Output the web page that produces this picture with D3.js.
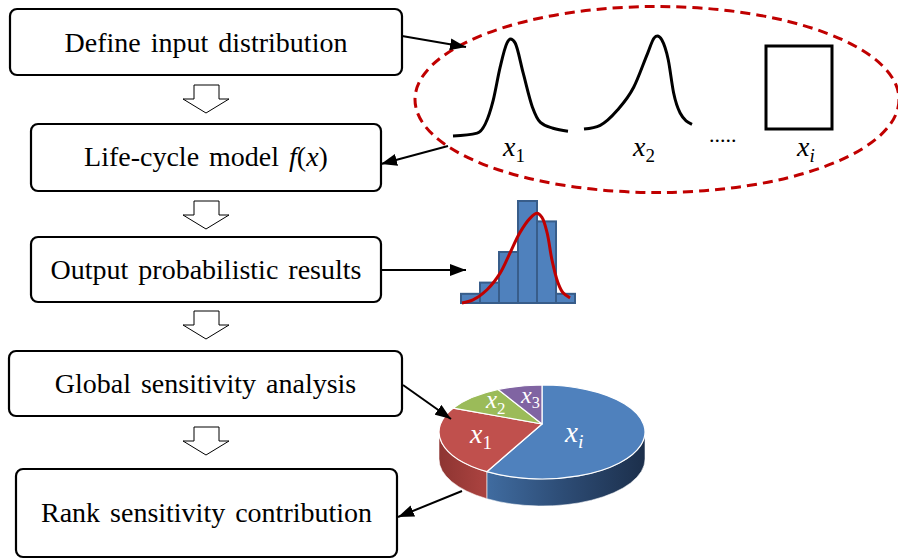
<!DOCTYPE html>
<html>
<head>
<meta charset="utf-8">
<script src="https://cdn.jsdelivr.net/npm/d3@7"></script>
</head>
<body style="margin:0">
<script>
const width = 898;
const height = 559;
const fontName = ["Liberation", "Serif"].join(" ");
const serif = `'${fontName}'`;

// Flow steps (segments: [text, italic])
const stepLabels = [
    [["Define input distribution", false]],
    [["Life-cycle model ", false], ["f", true], ["(", false], ["x", true], [")", false]],
    [["Output probabilistic results", false]],
    [["Global sensitivity analysis", false]],
    [["Rank sensitivity contribution", false]]
];

// Input distributions (x: 0-10, density: 0-1)
const dist1 = [[0, 0], [2.1, 0.03], [3.5, 0.37], [4.1, 0.71], [4.7, 0.96], [5.0, 1.0], [5.4, 0.96],
    [6.1, 0.65], [6.9, 0.30], [7.6, 0.14], [8.7, 0.08], [10, 0.05]];
const dist2 = [[0, 0.02], [1.5, 0.06], [3.1, 0.22], [4.6, 0.46], [5.9, 0.82], [6.5, 0.98], [6.8, 1.0],
    [7.2, 0.96], [7.8, 0.75], [8.3, 0.40], [8.9, 0.19], [10, 0.07]];
const distLabels = ["1", "2", "i"];

// Output histogram (relative counts) and fitted curve
const histCounts = [9, 20, 50, 100, 80, 9];
const histFit = [[0.05, 0], [0.63, 3], [1.37, 13], [2.05, 29], [2.58, 49], [3.1, 69], [3.63, 83],
    [4.0, 88], [4.26, 84], [4.53, 69], [4.79, 42], [5.1, 20], [5.37, 10], [5.74, 5]];

// Sensitivity contributions
const pieNames = ["i", "1", "2", "3"];
const pieValues = [59, 24.5, 9.5, 7];
const pieColors = ["#4f81bd", "#c0504d", "#9bbb59", "#8064a2"];

// layout
const boxes = [
    { x: 10, y: 9, w: 392, h: 66, ty: 52 },
    { x: 31, y: 124, w: 350, h: 67, ty: 166 },
    { x: 31, y: 237, w: 350, h: 65, ty: 279 },
    { x: 9, y: 351, w: 393, h: 65, ty: 393 },
    { x: 16, y: 469, w: 381, h: 88, ty: 522 }
];
const hollowArrows = [85, 201, 311, 427];

const svg = d3.select("body").append("svg").attr("width", width).attr("height", height)
    .style("display", "block");
svg.append("rect").attr("width", width).attr("height", height).attr("fill", "#fff");

const defs = svg.append("defs");
defs.append("marker")
    .attr("id", "head")
    .attr("markerUnits", "userSpaceOnUse")
    .attr("viewBox", "0 0 16 12")
    .attr("refX", 16).attr("refY", 6)
    .attr("markerWidth", 16).attr("markerHeight", 12)
    .attr("orient", "auto")
    .append("path").attr("d", "M0,0 L16,6 L0,12 Z").attr("fill", "#000");

const gBlue = defs.append("linearGradient").attr("id", "blueSide")
    .attr("gradientUnits", "userSpaceOnUse").attr("x1", 482).attr("x2", 645).attr("y1", 0).attr("y2", 0);
gBlue.append("stop").attr("offset", 0).attr("stop-color", "#416ea3");
gBlue.append("stop").attr("offset", 0.5).attr("stop-color", "#2d4c75");
gBlue.append("stop").attr("offset", 1).attr("stop-color", "#1c2f4b");
const gRed = defs.append("linearGradient").attr("id", "redSide")
    .attr("gradientUnits", "userSpaceOnUse").attr("x1", 440).attr("x2", 482).attr("y1", 0).attr("y2", 0);
gRed.append("stop").attr("offset", 0).attr("stop-color", "#8e3532");
gRed.append("stop").attr("offset", 1).attr("stop-color", "#a9423f");

// Step boxes
boxes.forEach((b, i) => {
    svg.append("rect")
        .attr("x", b.x).attr("y", b.y).attr("width", b.w).attr("height", b.h)
        .attr("rx", 7)
        .attr("fill", "#fff").attr("stroke", "#000").attr("stroke-width", 2.2);
    const t = svg.append("text")
        .attr("x", b.x + b.w / 2).attr("y", b.ty)
        .attr("text-anchor", "middle")
        .style("font-family", serif)
        .attr("font-size", 28)
        .attr("word-spacing", 3);
    stepLabels[i].forEach(seg => {
        t.append("tspan").attr("font-style", seg[1] ? "italic" : "normal").text(seg[0]);
    });
});

// Hollow block arrows between steps
hollowArrows.forEach(top => {
    const p = [[194, top], [219, top], [219, top + 14], [229, top + 14], [206, top + 28],
        [183, top + 14], [194, top + 14]];
    svg.append("path")
        .attr("d", "M" + p.join("L") + "Z")
        .attr("fill", "#fff").attr("stroke", "#000").attr("stroke-width", 1);
});

// Dashed ellipse with input distributions
svg.append("ellipse")
    .attr("cx", 657).attr("cy", 99.5).attr("rx", 242).attr("ry", 93)
    .attr("fill", "none").attr("stroke", "#c00000").attr("stroke-width", 3)
    .attr("stroke-dasharray", "10,6");

const dx1 = d3.scaleLinear().domain([0, 10]).range([453, 568]);
const dy1 = d3.scaleLinear().domain([0, 1]).range([136, 39]);
const dx2 = d3.scaleLinear().domain([0, 10]).range([584, 692]);
const dy2 = d3.scaleLinear().domain([0, 1]).range([131, 36]);

svg.append("path")
    .attr("d", d3.line().x(d => dx1(d[0])).y(d => dy1(d[1])).curve(d3.curveMonotoneX)(dist1))
    .attr("fill", "none").attr("stroke", "#000").attr("stroke-width", 3);
svg.append("path")
    .attr("d", d3.line().x(d => dx2(d[0])).y(d => dy2(d[1])).curve(d3.curveMonotoneX)(dist2))
    .attr("fill", "none").attr("stroke", "#000").attr("stroke-width", 3);
svg.append("rect")
    .attr("x", 766).attr("y", 46).attr("width", 66).attr("height", 83)
    .attr("fill", "none").attr("stroke", "#000").attr("stroke-width", 3);

function subLabel(x, y, sub, size, color) {
    const t = svg.append("text").attr("x", x).attr("y", y).attr("fill", color)
        .style("font-family", serif).attr("font-size", size);
    t.append("tspan").attr("font-style", "italic").text("x");
    t.append("tspan").attr("font-size", size * 0.68).attr("dy", size * 0.22)
        .attr("font-style", /\d/.test(sub) ? "normal" : "italic").text(sub);
    return t;
}
subLabel(503, 156, distLabels[0], 28, "#000");
subLabel(633, 156, distLabels[1], 28, "#000");
subLabel(797, 156, distLabels[2], 28, "#000");
svg.append("text").attr("x", 709).attr("y", 142)
    .style("font-family", serif).attr("font-size", 22).text(".....");

// Histogram
const hx = d3.scaleLinear().domain([0, 6]).range([461, 575]);
const hy = d3.scaleLinear().domain([0, 100]).range([303, 201]);
svg.selectAll(".bar").data(histCounts).enter()
    .append("rect")
    .attr("class", "bar")
    .attr("x", (d, i) => hx(i))
    .attr("y", d => hy(d))
    .attr("width", hx(1) - hx(0))
    .attr("height", d => hy(0) - hy(d))
    .attr("fill", "#4f81bd").attr("stroke", "#385d8a").attr("stroke-width", 2);
svg.append("path")
    .attr("d", d3.line().x(d => hx(d[0])).y(d => hy(d[1])).curve(d3.curveCatmullRom)(histFit))
    .attr("fill", "none").attr("stroke", "#c00000").attr("stroke-width", 3);

// 3D pie
const pc = { cx: 542, cy: 432, rx: 103, ry: 47, ax: 542, ay: 424, depth: 27 };
const arcs = d3.pie().sort(null)(pieValues);
const pt = (a, dy = 0) => [pc.cx + pc.rx * Math.sin(a), pc.cy - pc.ry * Math.cos(a) + dy];

// sides (front half only)
arcs.forEach((a, i) => {
    const a0 = Math.max(a.startAngle, Math.PI / 2);
    const a1 = Math.min(a.endAngle, 3 * Math.PI / 2);
    if (a1 <= a0) return;
    const p0 = pt(a0), p1 = pt(a1), q1 = pt(a1, pc.depth), q0 = pt(a0, pc.depth);
    const d = `M${p0}A${pc.rx},${pc.ry} 0 0 1 ${p1}L${q1}A${pc.rx},${pc.ry} 0 0 0 ${q0}Z`;
    svg.append("path").attr("d", d)
        .attr("fill", i === 0 ? "url(#blueSide)" : "url(#redSide)")
        .attr("stroke", "#fff").attr("stroke-width", 0.8).attr("stroke-opacity", 0.7);
});

// top faces
arcs.forEach((a, i) => {
    const p0 = pt(a.startAngle), p1 = pt(a.endAngle);
    const large = a.endAngle - a.startAngle > Math.PI ? 1 : 0;
    svg.append("path")
        .attr("d", `M${pc.ax},${pc.ay}L${p0}A${pc.rx},${pc.ry} 0 ${large} 1 ${p1}Z`)
        .attr("fill", pieColors[i])
        .attr("stroke", "#fff").attr("stroke-width", 1.2).attr("stroke-linejoin", "round");
});

subLabel(565, 442, pieNames[0], 29, "#fff");
subLabel(470, 443, pieNames[1], 28, "#fff");
subLabel(486, 408, pieNames[2], 25, "#fff");
subLabel(521, 403, pieNames[3], 24, "#fff");

// Connecting arrows
const links = [
    [[402, 36], [466, 47]],
    [[448, 146], [381, 164]],
    [[381, 270], [466, 270]],
    [[403, 385], [451, 419]],
    [[462, 491], [398, 517]]
];
links.forEach(l => {
    svg.append("line")
        .attr("x1", l[0][0]).attr("y1", l[0][1]).attr("x2", l[1][0]).attr("y2", l[1][1])
        .attr("stroke", "#000").attr("stroke-width", 2)
        .attr("marker-end", "url(#head)");
});
</script>
</body>
</html>
